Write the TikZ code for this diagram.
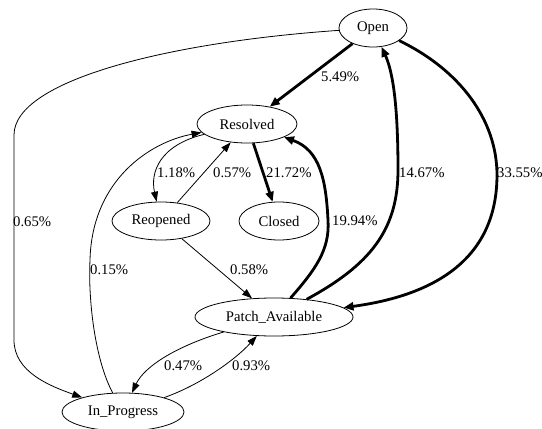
\documentclass[tikz,border=0pt]{standalone}
\usepackage{fontspec}
\setmainfont{Liberation Serif}
\usetikzlibrary{shapes.geometric,arrows.meta}
\begin{document}
\begin{tikzpicture}[x=1pt,y=-1pt,
  state/.style={ellipse,draw,line width=0.8pt,inner sep=0pt,minimum height=38pt,
    font=\fontsize{14.7}{17}\selectfont},
  lbl/.style={anchor=west,inner sep=0pt,font=\fontsize{14.7}{17}\selectfont},
  thinedge/.style={line width=0.8pt,-{Triangle[length=10pt,width=7pt]}},
  thickedge/.style={line width=2.8pt,-{Triangle[length=10pt,width=8pt]}}]
\useasboundingbox (0,0) rectangle (542,429);

% states
\node[state,minimum width=68pt]  (open)  at (373,28)  {Open};
\node[state,minimum width=100pt] (res)   at (247,124) {Resolved};
\node[state,minimum width=98pt]  (reop)  at (161,221) {Reopened};
\node[state,minimum width=80pt]  (clos)  at (279,221) {Closed};
\node[state,minimum width=158pt] (patch) at (274,317) {Patch\_Available};
\node[state,minimum width=122pt] (inpr)  at (123,412) {In\_Progress};

% transitions
\draw[thinedge] (open) .. controls (170,42) and (14,80) .. (14,135)
  -- (14,340) .. controls (14,372) and (50,386) .. (inpr);
\draw[thickedge] (open) -- (res);
\draw[thickedge] (open) .. controls (460,70) and (497,120) .. (497,175)
  .. controls (497,262) and (430,296) .. (patch);
\draw[thickedge] (patch) .. controls (370,265) and (398,230) .. (398,170)
  .. controls (398,100) and (392,70) .. (open);
\draw[thickedge] (patch) .. controls (315,270) and (330,250) .. (328,220)
  .. controls (326,180) and (320,150) .. (res);
\draw[thickedge] (res) -- (clos);
\draw[thinedge] (res) .. controls (160,145) and (150,172) .. (reop);
\draw[thinedge] (reop) -- (res);
\draw[thinedge] (reop) -- (patch);
\draw[thinedge] (inpr) .. controls (95,360) and (88,300) .. (90,260)
  .. controls (92,180) and (150,142) .. (res);
\draw[thinedge] (patch) .. controls (180,345) and (145,365) .. (inpr);
\draw[thinedge] (inpr) .. controls (200,385) and (235,360) .. (patch);

% transition labels
\node[lbl] (l1)  at (13,222)  {0.65\%};
\node[lbl] (l2)  at (321,77)  {5.49\%};
\node[lbl] (l3)  at (399,173) {14.67\%};
\node[lbl] (l4)  at (497,173) {33.55\%};
\node[lbl] (l5)  at (332,221) {19.94\%};
\node[lbl] (l6)  at (266,173) {21.72\%};
\node[lbl] (l7)  at (157,173) {1.18\%};
\node[lbl] (l8)  at (213,173) {0.57\%};
\node[lbl] (l9)  at (230,270) {0.58\%};
\node[lbl] (l10) at (90,270)  {0.15\%};
\node[lbl] (l11) at (164,366) {0.47\%};
\node[lbl] (l12) at (232,366) {0.93\%};
\end{tikzpicture}
\end{document}
